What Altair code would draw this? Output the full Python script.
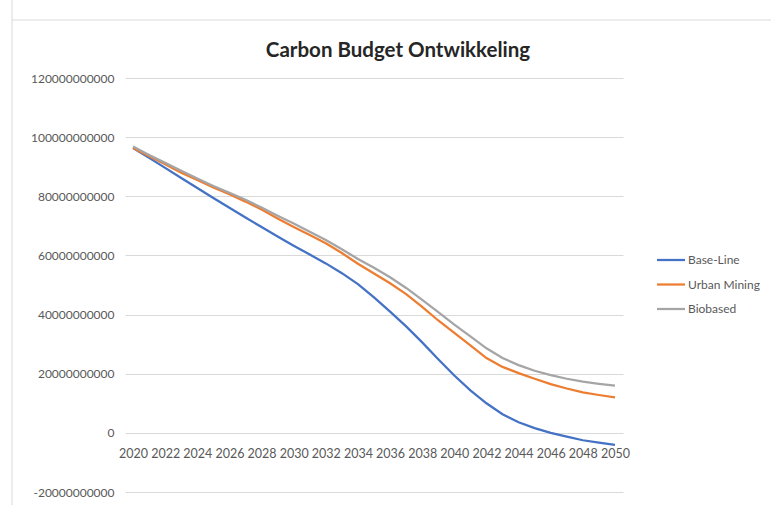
import altair as alt
import pandas as pd

years = list(range(2020, 2051))
series_names = ["Base-Line", "Urban Mining", "Biobased"]
colors = ["#4472C4", "#ED7D31", "#A5A5A5"]

# values in billions
base_line = [96.3, 93.0, 89.6, 86.2, 82.8, 79.4, 76.1, 72.8, 69.6, 66.4,
             63.3, 60.3, 57.3, 54.0, 50.3, 45.8, 41.0, 36.0, 30.6, 24.9,
             19.4, 14.4, 10.0, 6.3, 3.6, 1.6, 0.0, -1.3, -2.5, -3.3, -4.1]
urban_mining = [96.3, 93.5, 90.8, 88.0, 85.5, 83.0, 80.7, 78.2, 75.5, 72.5,
                69.6, 66.9, 64.1, 60.8, 57.2, 53.9, 50.6, 46.9, 42.6, 38.0,
                33.8, 29.6, 25.3, 22.3, 20.2, 18.3, 16.5, 15.0, 13.7, 12.8, 12.0]
biobased = [96.8, 94.0, 91.3, 88.6, 86.0, 83.5, 81.2, 78.8, 76.2, 73.4,
            70.8, 68.0, 65.2, 62.1, 58.8, 55.8, 52.6, 49.0, 45.0, 40.8,
            36.6, 32.6, 28.6, 25.3, 22.9, 21.0, 19.5, 18.3, 17.3, 16.6, 16.0]

y_ticks = [-20e9, 0, 20e9, 40e9, 60e9, 80e9, 100e9, 120e9]
x_ticks = list(range(2020, 2051, 2))

rows = []
for name, vals in zip(series_names, [base_line, urban_mining, biobased]):
    for yr, v in zip(years, vals):
        rows.append({"year": yr, "series": name, "value": v * 1e9})
df = pd.DataFrame(rows)

W, H = 498, 414
PAD_L, PAD_T = 125, 78
FONT = "Lato"
GRAY = "#595959"

lines = alt.Chart(df).mark_line(strokeWidth=2.25).encode(
    x=alt.X("year:Q",
            scale=alt.Scale(domain=[2019.5, 2050.5], nice=False, zero=False),
            axis=alt.Axis(values=x_ticks, labelExpr="'' + datum.value", grid=False,
                          domain=False, ticks=False, offset=-H / 7, labelPadding=15,
                          labelOverlap=False, labelFlush=False, title=None,
                          labelFont=FONT, labelFontSize=12.5, labelColor=GRAY)),
    y=alt.Y("value:Q",
            scale=alt.Scale(domain=[-20e9, 120e9], nice=False, zero=False),
            axis=alt.Axis(values=y_ticks, labelExpr="'' + datum.value", grid=True,
                          gridColor="#d9d9d9", gridWidth=1, domain=False, ticks=False,
                          labelPadding=11, title=None, labelFont=FONT,
                          labelFontSize=12, labelColor=GRAY)),
    color=alt.Color("series:N",
                    scale=alt.Scale(domain=series_names, range=colors),
                    legend=alt.Legend(title=None, orient="none", legendX=533, legendY=169,
                                      symbolType="M-1.2,0H1.2", symbolSize=544,
                                      symbolStrokeWidth=2.25, labelOffset=4,
                                      rowPadding=5.5, labelFont=FONT, labelFontSize=12,
                                      labelColor=GRAY, padding=0)),
)

frame_v = alt.Chart().mark_rule(color="#d9d9d9", strokeWidth=1).encode(
    x=alt.value(12 - PAD_L), y=alt.value(-PAD_T), y2=alt.value(505 - PAD_T))
frame_h = alt.Chart().mark_rule(color="#d9d9d9", strokeWidth=1).encode(
    y=alt.value(20 - PAD_T), x=alt.value(12 - PAD_L), x2=alt.value(771 - PAD_L))

chart = alt.layer(frame_v, frame_h, lines).properties(
    width=W, height=H,
    autosize=alt.AutoSizeParams(type="none"),
    padding={"left": PAD_L, "top": PAD_T, "right": 771 - PAD_L - W, "bottom": 505 - PAD_T - H},
    title=alt.TitleParams("Carbon Budget Ontwikkeling", font=FONT, fontSize=20.5,
                          fontWeight="bold", color="#262626", anchor="middle",
                          dx=24, offset=-62),
    background="white",
).configure_view(strokeWidth=0)

chart.save("out.html", embed_options={"renderer": "svg", "actions": False})
